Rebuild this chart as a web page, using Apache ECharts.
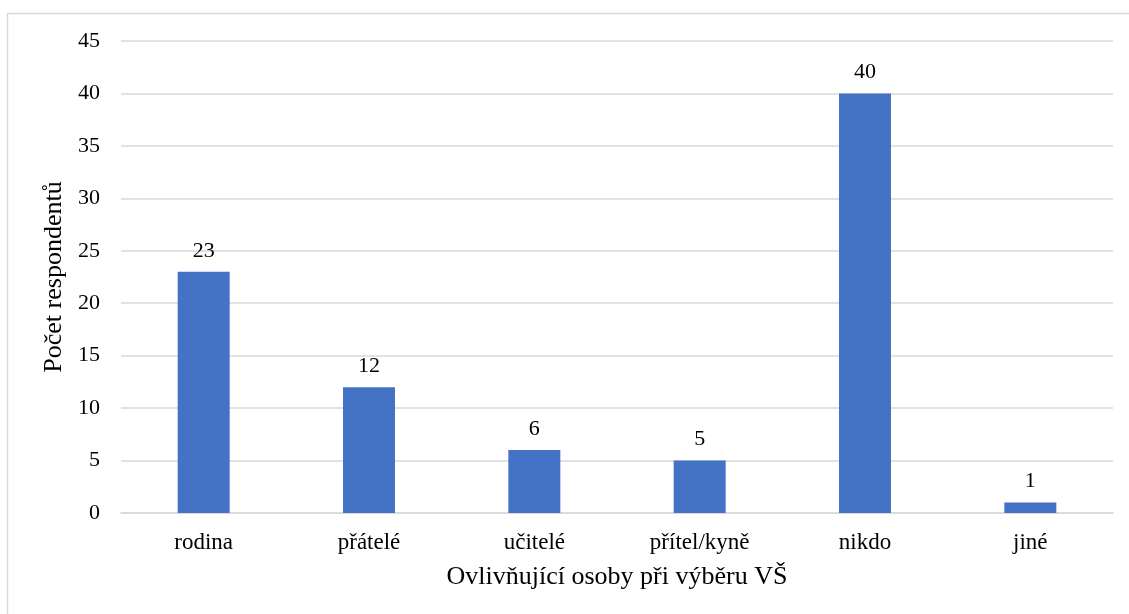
<!DOCTYPE html>
<html>
<head>
<meta charset="utf-8">
<script src="https://cdn.jsdelivr.net/npm/echarts@6/dist/echarts.min.js"></script>
<style>
  html, body { margin: 0; padding: 0; background: #fff; }
  #chart { width: 1129px; height: 614px; }
</style>
</head>
<body>
<div id="chart"></div>
<script>
// Who influenced the choice of university
const categories = ['rodina', 'přátelé', 'učitelé', 'přítel/kyně', 'nikdo', 'jiné'];
const respondents = [23, 12, 6, 5, 40, 1];
const yTicks = [0, 5, 10, 15, 20, 25, 30, 35, 40, 45];

const FONT = '"Liberation Serif", "Times New Roman", serif';

const chart = echarts.init(document.getElementById('chart'), null, { renderer: 'canvas' });
chart.setOption({
  animation: false,
  backgroundColor: '#ffffff',
  graphic: [{
    type: 'rect',
    shape: { x: 7.5, y: 13.5, width: 1130, height: 620 },
    style: { fill: 'none', stroke: '#d9d9d9', lineWidth: 1.5 },
    silent: true
  }],
  grid: { left: 121, right: 16, top: 41, bottom: 101, containLabel: false },
  xAxis: {
    type: 'category',
    data: categories,
    name: 'Ovlivňující osoby při výběru VŠ',
    nameLocation: 'middle',
    nameGap: 51,
    nameTextStyle: { fontFamily: FONT, fontSize: 26, color: '#000' },
    axisLine: { show: true, lineStyle: { color: '#d9d9d9', width: 1.5 } },
    axisTick: { show: false },
    axisLabel: { fontFamily: FONT, fontSize: 23, color: '#000', margin: 18 }
  },
  yAxis: {
    type: 'value',
    min: yTicks[0],
    max: yTicks[yTicks.length - 1],
    interval: yTicks[1] - yTicks[0],
    name: 'Počet respondentů',
    nameLocation: 'middle',
    nameGap: 51,
    nameTextStyle: { fontFamily: FONT, fontSize: 26, color: '#000' },
    axisLine: { show: false },
    axisTick: { show: false },
    axisLabel: { fontFamily: FONT, fontSize: 22, color: '#000', margin: 21 },
    splitLine: { lineStyle: { color: '#d9d9d9', width: 1.5 } }
  },
  series: [{
    type: 'bar',
    data: respondents,
    barWidth: 52,
    itemStyle: { color: '#4472c4' },
    label: {
      show: true,
      position: 'top',
      distance: 10,
      fontFamily: FONT,
      fontSize: 22,
      color: '#000'
    }
  }]
});
</script>
</body>
</html>
